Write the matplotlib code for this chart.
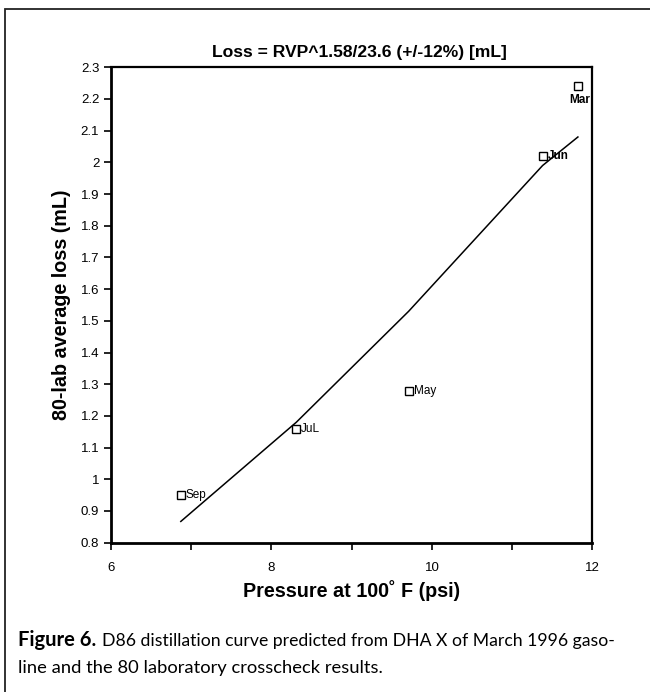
import matplotlib
matplotlib.use('Agg')
import matplotlib.pyplot as plt
from matplotlib.patches import Rectangle

# data
months = ['Sep', 'JuL', 'May', 'Jun', 'Mar']
rvp = [6.87, 8.31, 9.71, 11.38, 11.82]
loss = [0.95, 1.16, 1.28, 2.02, 2.24]
bold_label = [False, False, False, True, True]

# predicted curve
fit_rvp = [6.87, 8.31, 9.71, 11.38, 11.82]
fit_loss = [0.867, 1.18, 1.53, 1.99, 2.08]

xticks = [6, 8, 10, 12]
xminor = [7, 9, 11]
yticks = [0.8, 0.9, 1.0, 1.1, 1.2, 1.3, 1.4, 1.5, 1.6, 1.7, 1.8, 1.9, 2.0, 2.1, 2.2, 2.3]
ylabels = ['0.8', '0.9', '1', '1.1', '1.2', '1.3', '1.4', '1.5', '1.6', '1.7',
           '1.8', '1.9', '2', '2.1', '2.2', '2.3']

sans = ['Liberation Sans', 'DejaVu Sans']
capfont = ['Lato', 'Liberation Sans', 'DejaVu Sans']

fig = plt.figure(figsize=(6.5, 6.92), dpi=100)
ax = fig.add_axes([0.1708, 0.2158, 0.7405, 0.687])

ax.plot(fit_rvp, fit_loss, color='black', lw=1.1)
ax.plot(rvp, loss, ls='none', marker='s', ms=5.5, mfc='white', mec='black', mew=1.0)

for m, x, y, b in zip(months, rvp, loss, bold_label):
    if m == 'Mar':
        ax.annotate(m, (x, y), xytext=(1, -10), textcoords='offset points',
                    ha='center', va='center', fontsize=8.5, fontweight='bold', family=sans)
    else:
        ax.annotate(m, (x, y), xytext=(3.5, 0), textcoords='offset points',
                    ha='left', va='center', fontsize=8.5,
                    fontweight='bold' if b else 'normal', family=sans)

ax.set_xlim(6, 12)
ax.set_ylim(0.8, 2.3)
ax.set_xticks(xticks)
ax.set_xticks(xminor, minor=True)
ax.set_yticks(yticks)
ax.set_yticklabels(ylabels)
for lab in ax.get_xticklabels() + ax.get_yticklabels():
    lab.set_family(sans)
    lab.set_fontsize(9.5)
ax.tick_params(axis='both', which='both', direction='out', width=1.2, color='black')
ax.tick_params(axis='x', which='major', length=5, pad=9)
ax.tick_params(axis='x', which='minor', length=5)
ax.tick_params(axis='y', length=5, pad=3.5)
for s in ax.spines.values():
    s.set_linewidth(1.6)
ax.spines['left'].set_linewidth(2.0)
ax.spines['bottom'].set_linewidth(2.0)

fig.text(359 / 650, 1 - 53 / 692, 'Loss = RVP^1.58/23.6 (+/-12%) [mL]', fontsize=12.6,
         fontweight='bold', family=sans, ha='center', va='center')
ax.set_ylabel('80-lab average loss (mL)', fontsize=14.2, fontweight='bold', family=sans, labelpad=7)
ax.set_xlabel('Pressure at 100\u02da F (psi)', fontsize=14.2, fontweight='bold', family=sans, labelpad=4)

# outer frame of the figure box
fig.patches.append(Rectangle((5 / 650, -0.1), 1.2, 1 - 9 / 692 + 0.1, transform=fig.transFigure,
                             fill=False, ec='#222222', lw=1.3))

# caption
fig.canvas.draw()
r = fig.canvas.get_renderer()
y1 = 1 - 646 / 692
y2 = 1 - 673 / 692
t = fig.text(18 / 650, y1, 'Figure 6.', fontsize=14.5, fontweight='bold', family=capfont, va='baseline')
bb = t.get_window_extent(renderer=r)
fig.text(bb.x1 / 650 + 6 / 650, y1, 'D86 distillation curve predicted from DHA X of March 1996 gaso-',
         fontsize=12.7, family=capfont, va='baseline')
fig.text(18 / 650, y2, 'line and the 80 laboratory crosscheck results.', fontsize=13.2,
         family=capfont, va='baseline')

fig.savefig('out.png', dpi=100)
